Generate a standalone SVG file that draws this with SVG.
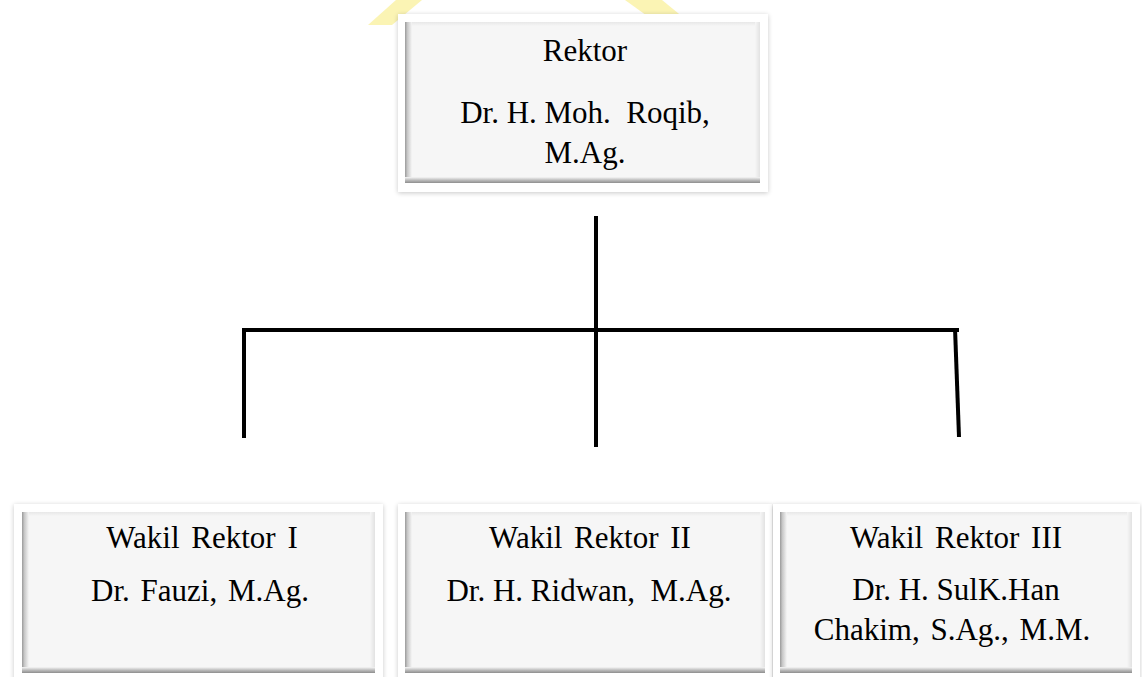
<svg xmlns="http://www.w3.org/2000/svg" width="1142" height="677" viewBox="0 0 1142 677">
  <style>
    .t { font-family: "Liberation Serif", "Times New Roman", serif; font-size: 31px; fill: #000; text-anchor: middle; white-space: pre; }
    .ws { word-spacing: 4px; }
    .ws3 { word-spacing: 3px; }
    .outer { fill: #ffffff; filter: url(#sh); }
    .inner { fill: #f6f6f6; }
    .bl { fill: url(#gL); }
    .bb { fill: url(#gB); }
    .br { fill: url(#gR); }
    .bt { fill: url(#gT); }
    .conn { stroke: #000; stroke-width: 4; fill: none; stroke-linecap: butt; }
    .wm { fill: #fbf4b4; }
  </style>
  <defs>
    <filter id="sh" x="-5%" y="-5%" width="110%" height="110%">
      <feGaussianBlur in="SourceAlpha" stdDeviation="2.5"/>
      <feOffset dx="0" dy="1" result="b"/>
      <feComponentTransfer><feFuncA type="linear" slope="0.22"/></feComponentTransfer>
      <feMerge><feMergeNode/><feMergeNode in="SourceGraphic"/></feMerge>
    </filter>
    <linearGradient id="gL" x1="0" y1="0" x2="1" y2="0">
      <stop offset="0" stop-color="#9a9a9a"/>
      <stop offset="0.35" stop-color="#c8c8c8"/>
      <stop offset="1" stop-color="#f6f6f6"/>
    </linearGradient>
    <linearGradient id="gB" x1="0" y1="0" x2="0" y2="1">
      <stop offset="0" stop-color="#f6f6f6"/>
      <stop offset="0.6" stop-color="#b4b4b4"/>
      <stop offset="1" stop-color="#8e8e8e"/>
    </linearGradient>
    <linearGradient id="gR" x1="0" y1="0" x2="1" y2="0">
      <stop offset="0" stop-color="#f6f6f6"/>
      <stop offset="1" stop-color="#e2e2e2"/>
    </linearGradient>
    <linearGradient id="gT" x1="0" y1="0" x2="0" y2="1">
      <stop offset="0" stop-color="#e8e8e8"/>
      <stop offset="1" stop-color="#f6f6f6"/>
    </linearGradient>
  </defs>

  <g id="watermark">
    <polygon class="wm" points="368,25 392,25 422,0 396,0"/>
    <polygon class="wm" points="625,0 662,0 684,18 650,18"/>
  </g>

  <g id="connectors">
    <path class="conn" d="M596,216 V447"/>
    <path class="conn" d="M242,330 H959"/>
    <path class="conn" d="M244,328 V438"/>
    <path class="conn" d="M955,328 L959,437"/>
  </g>

  <g id="rektor">
    <rect class="outer" x="398" y="14" width="370" height="178"/>
    <rect class="inner" x="405" y="22" width="355" height="161"/>
    <rect class="bt" x="405" y="22" width="355" height="4"/>
    <rect class="br" x="755" y="22" width="5" height="161"/>
    <rect class="bl" x="405" y="22" width="7" height="161"/>
    <rect class="bb" x="405" y="177" width="355" height="6"/>
    <text class="t" x="585" y="61">Rektor</text>
    <text class="t" x="585" y="123">Dr. H. Moh.  Roqib,</text>
    <text class="t" x="585" y="163">M.Ag.</text>
  </g>

  <g id="wakil1">
    <rect class="outer" x="14" y="504" width="369" height="182"/>
    <rect class="inner" x="22" y="512" width="353" height="161"/>
    <rect class="bt" x="22" y="512" width="353" height="4"/>
    <rect class="br" x="370" y="512" width="5" height="161"/>
    <rect class="bl" x="22" y="512" width="7" height="161"/>
    <rect class="bb" x="22" y="667" width="353" height="6"/>
    <text class="t ws" x="202" y="548">Wakil Rektor I</text>
    <text class="t ws3" x="200" y="601">Dr. Fauzi, M.Ag.</text>
  </g>

  <g id="wakil2">
    <rect class="outer" x="398" y="504" width="374" height="182"/>
    <rect class="inner" x="405" y="512" width="360" height="161"/>
    <rect class="bt" x="405" y="512" width="360" height="4"/>
    <rect class="br" x="760" y="512" width="5" height="161"/>
    <rect class="bl" x="405" y="512" width="7" height="161"/>
    <rect class="bb" x="405" y="667" width="360" height="6"/>
    <text class="t ws" x="590" y="548">Wakil Rektor II</text>
    <text class="t" x="589" y="601">Dr. H. Ridwan,  M.Ag.</text>
  </g>

  <g id="wakil3">
    <rect class="outer" x="773" y="504" width="367" height="182"/>
    <rect class="inner" x="780" y="512" width="352" height="161"/>
    <rect class="bt" x="780" y="512" width="352" height="4"/>
    <rect class="br" x="1127" y="512" width="5" height="161"/>
    <rect class="bl" x="780" y="512" width="7" height="161"/>
    <rect class="bb" x="780" y="667" width="352" height="6"/>
    <text class="t ws" x="956" y="548">Wakil Rektor III</text>
    <text class="t" x="956" y="600">Dr. H. SulK.Han</text>
    <text class="t ws3" x="952" y="640">Chakim, S.Ag., M.M.</text>
  </g>
</svg>
